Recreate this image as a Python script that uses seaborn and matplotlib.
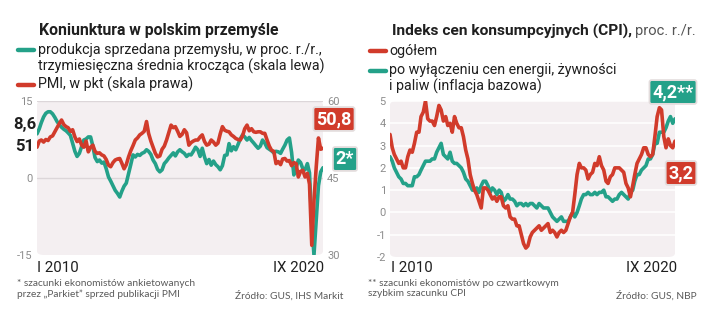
import matplotlib
matplotlib.use("Agg")
import numpy as np
import pandas as pd
import matplotlib.pyplot as plt
import matplotlib.patches as mpatches
from matplotlib.lines import Line2D
import seaborn as sns

# ---------------------------------------------------------------- data
months = pd.date_range("2010-01-01", "2020-09-01", freq="MS")

# industrial output sold, % y/y, 3-month moving average (left scale)
production_3mma = [
    8.6, 9.6, 10.8, 11.9, 12.6, 12.9, 12.9, 12.5, 11.8, 11.0, 10.4, 9.9,
    9.5, 9.2, 8.8, 8.3, 6.8, 5.2, 4.2, 4.8, 6.1, 7.4, 7.6, 8.0,
    8.0, 6.2, 4.0, 3.2, 3.5, 2.9, 3.1, 1.8, 0.2, -0.6, -1.5, -2.4,
    -3.0, -3.7, -2.6, -1.6, -1.0, 0.8, 2.6, 4.5, 4.1, 4.6, 4.4, 4.8,
    5.0, 5.5, 5.2, 4.6, 3.5, 2.8, 1.7, 1.2, 1.6, 2.8, 3.3, 3.9,
    4.4, 4.9, 4.3, 5.1, 5.5, 5.1, 4.8, 4.2, 4.6, 4.5, 5.2, 6.0,
    5.5, 4.2, 5.8, 4.1, 2.8, 3.6, 2.5, 3.3, 2.6, 2.2, 1.6, 2.4,
    4.4, 4.5, 6.7, 5.3, 6.1, 5.5, 6.5, 7.6, 8.4, 8.0, 7.4, 7.9,
    7.3, 6.8, 6.3, 5.8, 6.2, 7.4, 6.8, 5.9, 5.6, 5.3, 4.9, 5.2,
    5.1, 4.8, 5.6, 6.4, 7.4, 7.8, 5.0, 0.6, 2.0, 3.5, 3.0, 1.8,
    1.6, 2.8, 1.0, -9.0, -15.0, -8.0, -1.5, 1.2, 2.0,
]

# manufacturing PMI, points (right scale)
pmi = [
    51.0, 52.2, 52.4, 52.0, 52.5, 52.3, 53.0, 53.2, 54.0, 54.8, 55.6, 56.3,
    55.4, 55.0, 54.8, 54.1, 54.4, 53.0, 52.1, 52.6, 51.4, 51.0, 52.2, 50.1,
    51.0, 51.4, 50.2, 49.8, 49.9, 49.5, 49.3, 48.6, 47.5, 47.2, 48.0, 48.5,
    48.7, 48.8, 47.9, 46.8, 47.6, 49.1, 50.3, 51.3, 52.4, 52.8, 53.4, 53.7,
    54.1, 56.0, 53.7, 52.2, 51.0, 49.8, 49.1, 49.3, 50.6, 51.2, 52.4, 53.8,
    55.3, 54.8, 55.0, 54.1, 53.1, 53.5, 54.4, 53.8, 51.4, 51.9, 52.2, 52.4,
    52.4, 53.0, 53.4, 52.1, 51.4, 51.6, 52.4, 52.0, 51.4, 51.8, 53.6, 55.0,
    54.3, 54.1, 54.0, 53.4, 53.1, 52.7, 52.5, 52.4, 53.2, 54.6, 55.3, 54.2,
    54.6, 54.0, 53.9, 54.0, 54.0, 53.7, 53.7, 52.4, 51.2, 50.4, 50.2, 47.8,
    48.2, 47.6, 48.7, 48.8, 48.3, 48.4, 47.4, 48.0, 47.8, 45.2, 46.3, 46.5,
    45.2, 45.9, 43.8, 31.9, 40.6, 47.2, 52.8, 50.6, 50.8,
]

# CPI, % y/y: headline
cpi_total = [
    3.5, 2.9, 2.6, 2.4, 2.2, 2.3, 2.0, 2.0, 2.5, 2.8, 2.7, 3.1,
    3.6, 3.6, 4.3, 4.5, 5.0, 4.2, 4.1, 4.1, 3.9, 4.3, 4.8, 4.6,
    4.1, 4.3, 3.9, 4.0, 3.6, 4.3, 4.0, 3.8, 3.8, 3.4, 2.8, 2.4,
    1.7, 1.3, 1.0, 0.8, 0.5, 0.2, 1.1, 1.1, 1.0, 0.8, 0.6, 0.7,
    0.5, 0.7, 0.7, 0.3, 0.2, 0.3, -0.2, -0.3, -0.3, -0.6, -0.6, -1.0,
    -1.4, -1.6, -1.5, -1.1, -0.9, -0.8, -0.7, -0.6, -0.8, -0.7, -0.6, -0.5,
    -0.9, -0.8, -0.9, -1.1, -0.9, -0.8, -0.9, -0.8, -0.5, -0.2, 0.0, 0.8,
    1.7, 2.2, 2.0, 2.0, 1.9, 1.5, 1.7, 1.8, 2.2, 2.1, 2.5, 2.1,
    1.9, 1.4, 1.3, 1.6, 1.7, 2.0, 2.0, 2.0, 1.9, 1.8, 1.3, 1.1,
    0.7, 1.2, 1.7, 2.2, 2.4, 2.6, 2.9, 2.9, 2.6, 2.5, 2.6, 3.4,
    4.3, 4.7, 4.6, 3.4, 2.9, 3.3, 3.0, 2.9, 3.2,
]

# CPI excluding energy, food and fuel (core inflation)
cpi_core = [
    2.5, 2.3, 2.0, 1.8, 1.6, 1.5, 1.3, 1.3, 1.2, 1.2, 1.2, 1.6,
    1.6, 1.7, 1.9, 2.1, 2.3, 2.3, 2.3, 2.4, 2.4, 2.7, 2.9, 3.1,
    2.6, 2.5, 2.4, 2.7, 2.3, 2.2, 2.2, 2.1, 2.0, 1.8, 1.5, 1.4,
    1.2, 1.0, 1.0, 1.1, 0.9, 1.2, 1.4, 1.4, 1.2, 0.9, 1.1, 1.0,
    0.8, 1.0, 0.9, 0.5, 0.6, 0.8, 0.6, 0.6, 0.5, 0.3, 0.4, 0.4,
    0.3, 0.4, 0.3, 0.4, 0.4, 0.3, 0.2, 0.4, 0.3, 0.2, 0.2, 0.2,
    0.0, -0.2, -0.3, -0.4, -0.3, -0.2, -0.4, -0.4, -0.4, -0.2, 0.0, -0.2,
    0.0, 0.3, 0.6, 0.8, 0.8, 0.9, 0.8, 0.8, 0.9, 0.8, 0.9, 0.9,
    1.0, 0.7, 0.7, 0.6, 0.5, 0.6, 0.6, 0.8, 0.9, 0.8, 0.7, 0.6,
    0.9, 1.0, 1.4, 1.7, 1.7, 1.9, 2.0, 2.1, 2.4, 2.4, 2.6, 3.1,
    3.1, 3.6, 3.6, 3.6, 3.8, 4.1, 4.3, 4.0, 4.2,
]

x_labels = ["I 2010", "IX 2020"]
left_ticks = [-15, 0, 15]
right_ticks = [30, 45, 60]
cpi_ticks = [-2, -1, 0, 1, 2, 3, 4, 5]

df_ind = pd.DataFrame({"date": months, "production": production_3mma, "pmi": pmi})
df_cpi = pd.DataFrame({"date": months, "total": cpi_total, "core": cpi_core})

# ---------------------------------------------------------------- style
sns.set_theme(style="white")
plt.rcParams["font.family"] = ["Roboto", "DejaVu Sans"]

W, H = 720, 321
RED = "#d13b2b"
GREEN = "#24a189"
BG = "#f4eff1"
DARK = "#1f1f1f"
GREY = "#8c8c8c"
NOTE = "#5a5a5a"
LW = 2.6
NOTE_FONT = ["Lato", "DejaVu Sans"]

fig = plt.figure(figsize=(W / 100, H / 100), dpi=100)
fig.patch.set_facecolor("white")
renderer = fig.canvas.get_renderer()


def fx(x):
    return x / W


def fy(y):
    return 1 - y / H


def axes_px(x0, y0, x1, y1):
    return fig.add_axes([fx(x0), fy(y1), (x1 - x0) / W, (y1 - y0) / H])


def label(x, y, text, width=None, size=10, **kw):
    """Place text at pixel coords; optionally scale it to a given pixel width."""
    t = fig.text(fx(x), fy(y), text, fontsize=size, va="center", **kw)
    if width is not None:
        w = t.get_window_extent(renderer).width
        t.set_fontsize(size * width / w)
    return t


def rounded_bg(ax):
    ax.set_facecolor("none")
    bg = mpatches.FancyBboxPatch((0, 0), 1, 1,
                                 boxstyle="round,pad=0,rounding_size=0.025",
                                 transform=ax.transAxes, fc=BG, ec="none",
                                 zorder=-5, clip_on=False)
    ax.add_patch(bg)


def swatch(x0, x1, y, color):
    fig.add_artist(Line2D([fx(x0), fx(x1)], [fy(y), fy(y)],
                          transform=fig.transFigure, color=color, lw=3.2,
                          solid_capstyle="round"))


def value_box(x, y, text, color, size=13):
    fig.text(fx(x), fy(y), text, ha="center", va="center", color="white",
             fontsize=size, fontweight="bold",
             bbox=dict(boxstyle="round,pad=0.16,rounding_size=0.12",
                       fc=color, ec="#e3dcdc", lw=1.3))


def fmt(v):
    return f"{v:g}".replace(".", ",")


def clean(ax):
    for s in ax.spines.values():
        s.set_visible(False)
    ax.set_xlabel("")
    ax.set_ylabel("")
    ax.tick_params(length=0, pad=3)


x_min, x_max = months[0], months[-1]

# ---------------------------------------------------------------- panel 1
ax1 = axes_px(37, 101, 323, 255)
rounded_bg(ax1)
for v in [0, 15]:
    ax1.axhline(v, color="#dcd6d9", lw=1.0, zorder=-1)
sns.lineplot(data=df_ind, x="date", y="production", ax=ax1, color=GREEN,
             lw=LW, zorder=3)
ax1.set_ylim(-15, 15)
ax1.set_xlim(x_min, x_max)
ax1.set_yticks(left_ticks)
ax1.set_yticklabels([str(t) for t in left_ticks], color=GREY, fontsize=8)
ax1.set_xticks([])
clean(ax1)

ax1b = ax1.twinx()
ax1b.patch.set_visible(False)
sns.lineplot(data=df_ind, x="date", y="pmi", ax=ax1b, color=RED, lw=LW,
             zorder=4)
ax1b.set_ylim(30, 60)
ax1b.set_xlim(x_min, x_max)
ax1b.set_yticks(right_ticks)
ax1b.set_yticklabels([str(t) for t in right_ticks], color=GREY, fontsize=8)
ax1b.set_xticks([])
clean(ax1b)

label(39, 30, "Koniunktura w polskim przemyśle", width=240,
      fontweight="bold", color=DARK)
swatch(18, 34, 50, GREEN)
leg1 = label(38, 50, "produkcja sprzedana przemysłu, w proc. r./r.,",
             width=285, color=DARK)
leg_size = leg1.get_fontsize()
label(38, 66, "trzymiesięczna średnia krocząca (skala lewa)",
      size=leg_size, color=DARK)
swatch(18, 34, 85, RED)
label(38, 84, "PMI, w pkt (skala prawa)", size=leg_size, color=DARK)

label(36, 124, fmt(production_3mma[0]), size=12, fontweight="bold",
      color=DARK, ha="right")
label(34, 147, fmt(pmi[0]), size=12, fontweight="bold", color=DARK,
      ha="right")

label(37, 268, x_labels[0], size=10.8, color=DARK)
label(324, 268, x_labels[1], size=10.8, color=DARK, ha="right")

value_box(334, 119, fmt(pmi[-1]), RED)
value_box(345, 159, fmt(production_3mma[-1]) + "*", GREEN)

note1 = label(17, 284, "* szacunki ekonomistów ankietowanych", width=178,
              color=NOTE, family=NOTE_FONT)
note_size = note1.get_fontsize()
label(17, 294, "przez „Parkiet” sprzed publikacji PMI", size=note_size,
      color=NOTE, family=NOTE_FONT)
label(343, 296, "Źródło: GUS, IHS Markit", size=note_size, color=NOTE,
      ha="right", family=NOTE_FONT)

# ---------------------------------------------------------------- panel 2
ax2 = axes_px(390, 101, 675, 257)
rounded_bg(ax2)
for v in cpi_ticks[1:]:
    ax2.axhline(v, color="white", lw=1.1, zorder=-1)
sns.lineplot(data=df_cpi, x="date", y="core", ax=ax2, color=GREEN, lw=LW,
             zorder=3)
sns.lineplot(data=df_cpi, x="date", y="total", ax=ax2, color=RED, lw=LW,
             zorder=4)
ax2.set_ylim(-2, 5)
ax2.set_xlim(x_min, x_max)
ax2.set_yticks(cpi_ticks)
ax2.set_yticklabels([str(t) for t in cpi_ticks], color=GREY, fontsize=8)
ax2.set_xticks([])
clean(ax2)

t_bold = label(392, 31, "Indeks cen konsumpcyjnych (CPI),", width=240,
               fontweight="bold", color=DARK)
bb = t_bold.get_window_extent(renderer)
label(bb.x1 + 3, 31, "proc. r./r.", size=t_bold.get_fontsize() * 0.95,
      color="#555555")

swatch(370, 386, 51, RED)
label(389, 51, "ogółem", size=leg_size, color=DARK)
swatch(370, 386, 71, GREEN)
label(389, 70, "po wyłączeniu cen energii, żywności", size=leg_size,
      color=DARK)
label(389, 86, "i paliw (inflacja bazowa)", size=leg_size, color=DARK)

label(391, 268, x_labels[0], size=10.8, color=DARK)
label(677, 268, x_labels[1], size=10.8, color=DARK, ha="right")

value_box(673, 92, fmt(cpi_core[-1]) + "**", GREEN)
value_box(681, 173, fmt(cpi_total[-1]), RED)

label(368, 284, "** szacunki ekonomistów po czwartkowym", size=note_size,
      color=NOTE, family=NOTE_FONT)
label(368, 294, "szybkim szacunku CPI", size=note_size, color=NOTE,
      family=NOTE_FONT)
label(697, 296, "Źródło: GUS, NBP", size=note_size, color=NOTE,
      ha="right", family=NOTE_FONT)

fig.savefig("out.png", dpi=100, facecolor="white")
